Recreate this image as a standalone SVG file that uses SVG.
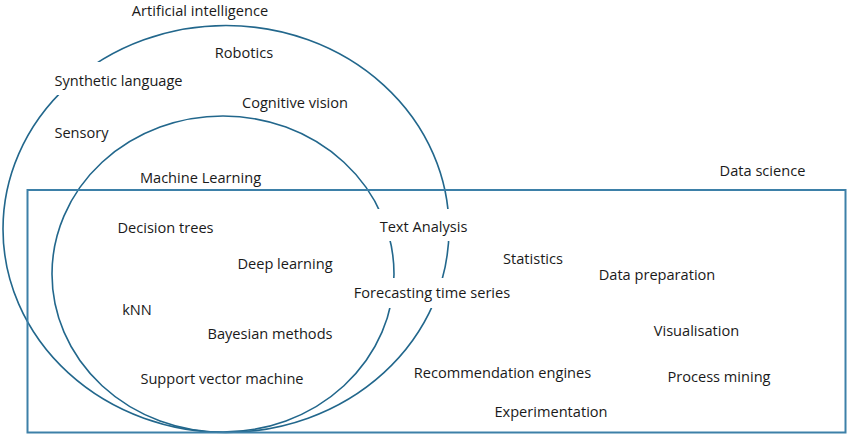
<svg xmlns="http://www.w3.org/2000/svg" width="850" height="436" viewBox="0 0 850 436">
<style>
.set{fill:none;stroke:#22678c;stroke-width:1.6}
.box{fill:none;stroke:#3d80a8;stroke-width:2}
.mask{fill:#ffffff;stroke:none}
text{font-family:"Open Sans","Noto Sans",sans-serif;font-size:14.6px;fill:#1a1a1a;text-anchor:middle}
</style>
<rect width="850" height="436" fill="#ffffff"/>
<g id="connectors">
<ellipse id="ai-set" class="set" cx="226" cy="229" rx="223" ry="203.5"/>
<ellipse id="ml-set" class="set" cx="223" cy="274" rx="171" ry="158"/>
<rect id="ds-set" class="box" x="27.5" y="190" width="818" height="242.5"/>
</g>
<g id="masks">
<rect class="mask" x="50" y="62" width="138" height="33"/>
<rect class="mask" x="372" y="209" width="103" height="32"/>
<rect class="mask" x="346" y="278" width="172" height="30"/>
</g>
<g id="labels">
<g id="artificial-intelligence"><text x="200" y="15.5">Artificial intelligence</text></g>
<g id="robotics"><text x="244" y="58">Robotics</text></g>
<g id="synthetic-language"><text x="118.5" y="86">Synthetic language</text></g>
<g id="cognitive-vision"><text x="295" y="108">Cognitive vision</text></g>
<g id="sensory"><text x="81.5" y="138">Sensory</text></g>
<g id="machine-learning"><text x="200.5" y="183">Machine Learning</text></g>
<g id="decision-trees"><text x="165.5" y="233">Decision trees</text></g>
<g id="deep-learning"><text x="285" y="269">Deep learning</text></g>
<g id="knn"><text x="137" y="315">kNN</text></g>
<g id="bayesian-methods"><text x="270" y="339">Bayesian methods</text></g>
<g id="svm"><text x="222" y="384">Support vector machine</text></g>
<g id="text-analysis"><text x="423.5" y="232">Text Analysis</text></g>
<g id="forecasting"><text x="432" y="298">Forecasting time series</text></g>
<g id="statistics"><text x="533" y="264">Statistics</text></g>
<g id="data-preparation"><text x="657" y="280">Data preparation</text></g>
<g id="data-science"><text x="762.5" y="176">Data science</text></g>
<g id="visualisation"><text x="696.5" y="336">Visualisation</text></g>
<g id="recommendation-engines"><text x="502.5" y="378">Recommendation engines</text></g>
<g id="process-mining"><text x="719" y="382">Process mining</text></g>
<g id="experimentation"><text x="551" y="417">Experimentation</text></g>
</g>
</svg>
